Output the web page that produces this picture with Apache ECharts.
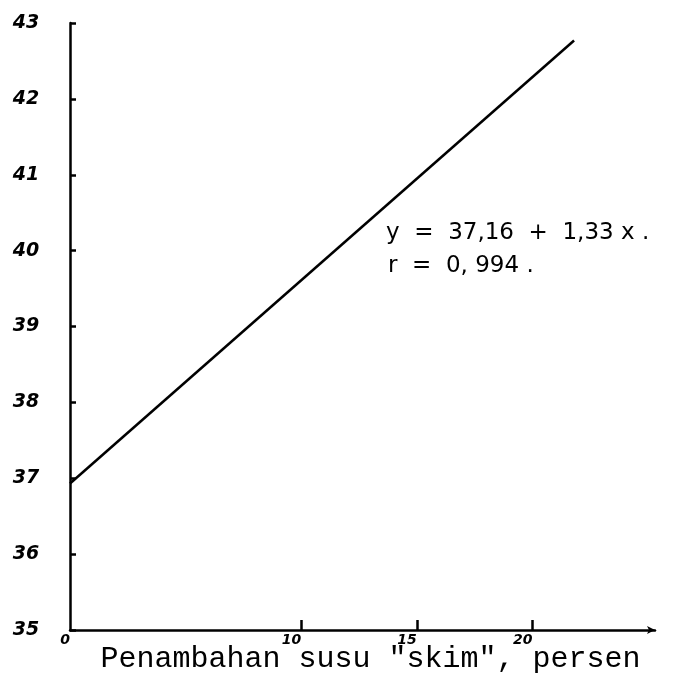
<!DOCTYPE html>
<html><head><meta charset="utf-8">
<script src="https://cdn.jsdelivr.net/npm/echarts@6/dist/echarts.min.js"></script>
<style>html,body{margin:0;padding:0;background:#fff}#c{width:694px;height:678px}</style>
</head><body><div id="c"></div>
<script>
const xLabel = 'Penambahan susu "skim", persen';
const xTickValues = [10, 15, 20];
const xLabelValues = [0, 10, 15, 20];
const yTickValues = [35, 36, 37, 38, 39, 40, 41, 42, 43];
const lineX = [0, 21.8];
const lineY = [36.93, 42.77];
const equationText = 'y  =  37,16  +  1,33 x .';
const rText = 'r  =  0, 994 .';

const chart = echarts.init(document.getElementById('c'));
chart.setOption({
  backgroundColor: '#fff',
  animation: false,
  grid: {left: 70, right: 39, top: 23, bottom: 48, outerBoundsMode: 'none', containLabel: false},
  xAxis: {
    type: 'value', min: 0, max: 25.3,
    axisLine: {lineStyle: {color: '#000', width: 2.5}, symbol: ['none', 'arrow'], symbolSize: [6, 8]},
    axisTick: {inside: true, length: 10, lineStyle: {color: '#000', width: 2.5}, customValues: xTickValues},
    axisLabel: {customValues: xLabelValues, align: 'right', margin: 3, color: '#000', fontSize: 14, fontStyle: 'italic', fontWeight: 'bold', fontFamily: 'DejaVu Sans'},
    splitLine: {show: false},
    name: xLabel, nameLocation: 'middle', nameGap: 14, nameMoveOverlap: false,
    nameTextStyle: {fontFamily: 'Liberation Mono', fontSize: 30, color: '#000', padding: [0, 0, 0, 16]}
  },
  yAxis: {
    type: 'value', min: 35, max: 43,
    axisLine: {show: true, lineStyle: {color: '#000', width: 2.5}},
    axisTick: {inside: true, length: 6, lineStyle: {color: '#000', width: 2.5}, customValues: yTickValues},
    axisLabel: {customValues: yTickValues, margin: 44, align: 'center', color: '#000', fontSize: 19, fontStyle: 'italic', fontWeight: 'bold', fontFamily: 'DejaVu Sans'},
    splitLine: {show: false}
  },
  series: [{
    type: 'line', symbol: 'none',
    data: lineX.map((x, i) => [x, lineY[i]]),
    lineStyle: {color: '#000', width: 2.5}
  }],
  graphic: [
    {type: 'text', left: 386, top: 222, style: {text: equationText, fontSize: 23, fontFamily: 'DejaVu Sans', fill: '#000'}},
    {type: 'text', left: 388, top: 255, style: {text: rText, fontSize: 23, fontFamily: 'DejaVu Sans', fill: '#000'}}
  ]
});
</script></body></html>
